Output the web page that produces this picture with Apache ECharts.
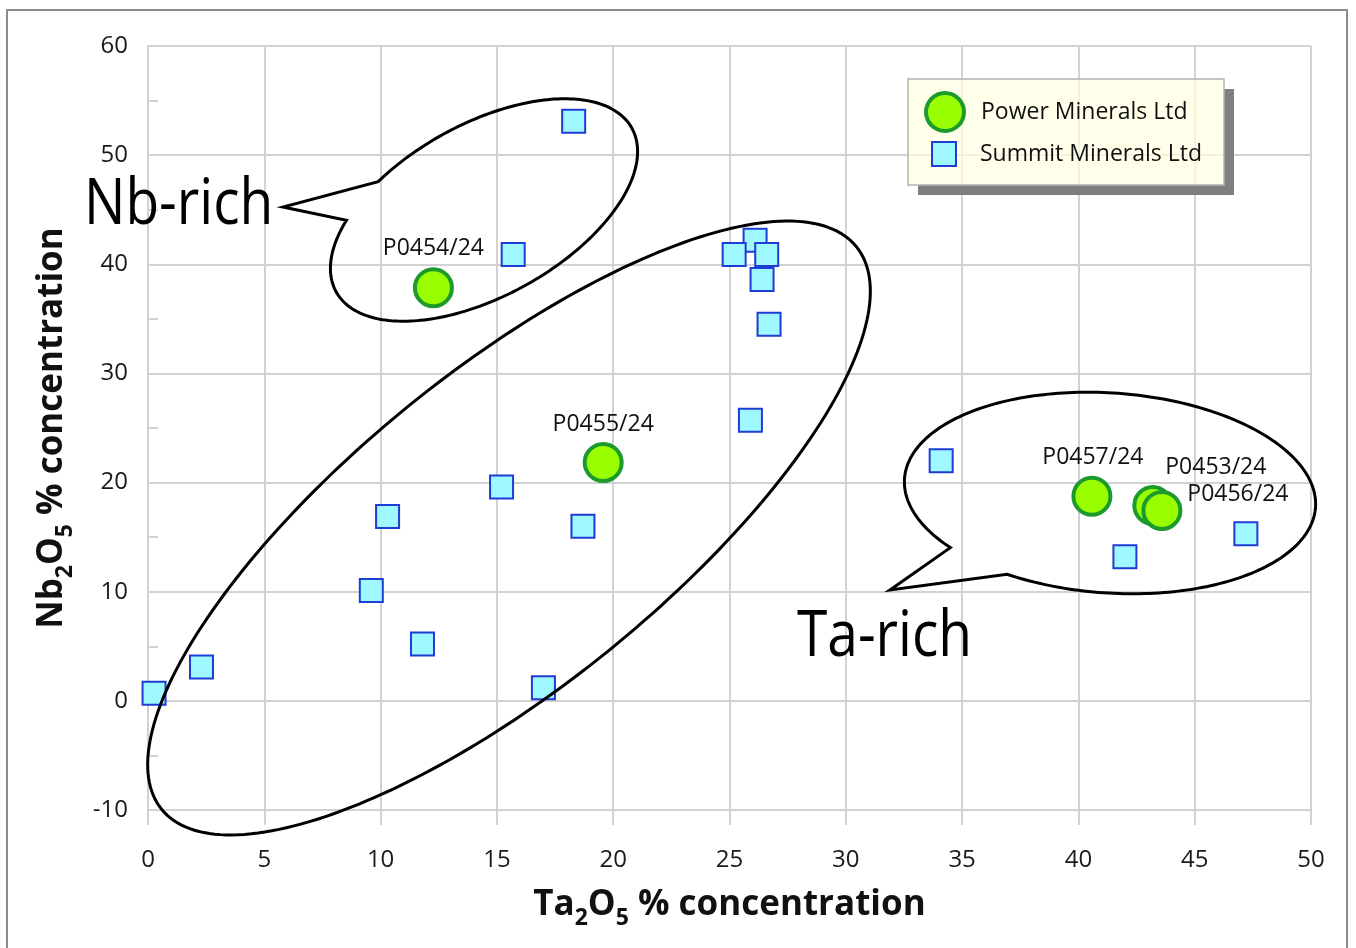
<!DOCTYPE html>
<html>
<head>
<meta charset="utf-8">
<script src="https://cdn.jsdelivr.net/npm/echarts@6/dist/echarts.min.js"></script>
<style>
  html, body { margin: 0; padding: 0; background: #fff; }
  #chart { width: 1356px; height: 948px; }
</style>
</head>
<body>
<div id="chart"></div>
<script>
// axis ranges
const xMin = 0, xMax = 50, xStep = 5;
const yMin = -10, yMax = 60, yStep = 10;

// Summit Minerals Ltd samples (Ta2O5 %, Nb2O5 %)
const summitTa = [0.26, 2.3, 9.6, 10.3, 11.8, 15.2, 15.7, 17.0, 18.3, 18.7, 26.1, 25.2, 26.6, 26.4, 26.7, 25.9, 34.1, 42.0, 47.2];
const summitNb = [0.7, 3.1, 10.1, 16.9, 5.2, 19.6, 40.9, 1.2, 53.1, 16.0, 42.2, 40.9, 40.9, 38.6, 34.5, 25.7, 22.0, 13.2, 15.3];

// Power Minerals Ltd samples
const powerNames = ['P0454/24', 'P0455/24', 'P0457/24', 'P0453/24', 'P0456/24'];
const powerTa = [12.27, 19.57, 40.58, 43.2, 43.59];
const powerNb = [37.85, 21.84, 18.75, 17.9, 17.45];

// where each sample name sits relative to its marker (px)
const labelOffsets = {
  'P0454/24': [0, -39],
  'P0455/24': [0, -38],
  'P0457/24': [1, -39],
  'P0453/24': [63, -38],
  'P0456/24': [76, -16],
};

const font = 'Open Sans';
const gridColor = '#d2d2d2';

const chart = echarts.init(document.getElementById('chart'));

// speech bubble outline: ellipse with a pointed tail
function bubble(cx, cy, a, b, rot, tail) {
  const r = rot * Math.PI / 180, c = Math.cos(r), s = Math.sin(r);
  const at = t => [cx + a * Math.cos(t) * c - b * Math.sin(t) * s,
                   cy + a * Math.cos(t) * s + b * Math.sin(t) * c];
  const n = 240;
  const pts = [];
  if (!tail) {
    for (let i = 0; i < n; i++) pts.push(at(2 * Math.PI * i / n));
    return pts;
  }
  const toT = p => {
    const dx = p[0] - cx, dy = p[1] - cy;
    return Math.atan2((-dx * s + dy * c) / b, (dx * c + dy * s) / a);
  };
  const t1 = toT(tail.from), t2 = toT(tail.to);
  let d = (t2 - t1) % (2 * Math.PI);
  if (d < 0) d += 2 * Math.PI;
  let start, len;
  if (d < Math.PI) { start = t2; len = 2 * Math.PI - d; } else { start = t1; len = d; }
  for (let i = 0; i <= n; i++) pts.push(at(start + len * i / n));
  pts.push(tail.tip);
  return pts;
}

const outline = { stroke: '#000', fill: 'none', lineWidth: 3, lineJoin: 'miter' };

const nameRich = {
  m: { fontFamily: font, fontWeight: 'bold', fontSize: 35, lineHeight: 50, color: '#111' },
  s: { fontFamily: font, fontWeight: 'bold', fontSize: 23, lineHeight: 23, verticalAlign: 'bottom', color: '#111' },
};

const option = {
  animation: false,
  backgroundColor: '#fff',
  grid: { left: 148, right: 45, top: 46, bottom: 138 },
  xAxis: {
    type: 'value',
    min: xMin,
    max: xMax,
    interval: xStep,
    name: '{m|Ta}{s|2}{m|O}{s|5}{m| % concentration}',
    nameLocation: 'middle',
    nameGap: 70,
    nameTextStyle: { rich: nameRich },
    axisLine: { show: true, onZero: false, lineStyle: { color: gridColor, width: 2 } },
    axisTick: { show: true, length: 15, lineStyle: { color: gridColor, width: 2 } },
    axisLabel: { margin: 38, fontFamily: font, fontSize: 24, color: '#1a1a1a' },
    splitLine: { show: true, lineStyle: { color: gridColor, width: 2 } },
  },
  yAxis: {
    type: 'value',
    min: yMin,
    max: yMax,
    interval: yStep,
    name: '{m|Nb}{s|2}{m|O}{s|5}{m| % concentration}',
    nameLocation: 'middle',
    nameRotate: 90,
    nameGap: 71,
    nameTextStyle: { rich: nameRich },
    axisLine: { show: true, onZero: false, lineStyle: { color: gridColor, width: 2 } },
    axisTick: { show: false, inside: true },
    minorTick: { show: true, splitNumber: 2, length: 10, lineStyle: { color: gridColor, width: 2 } },
    axisLabel: { margin: 20, fontFamily: font, fontSize: 24, color: '#1a1a1a' },
    splitLine: { show: true, lineStyle: { color: gridColor, width: 2 } },
  },
  legend: [
    {
      data: ['Power Minerals Ltd'],
      left: 919,
      top: 86,
      itemWidth: 62,
      itemHeight: 38,
      icon: 'circle',
      itemStyle: { color: '#99ff00', borderColor: '#1d9a2c', borderWidth: 4 },
      textStyle: { fontFamily: font, fontSize: 23, color: '#111' },
      selectedMode: false,
      z: 6,
    },
    {
      data: ['Summit Minerals Ltd'],
      left: 926,
      top: 136,
      itemWidth: 62,
      itemHeight: 24,
      icon: 'path://M0,0L10,0L10,10L0,10Z',
      itemStyle: { color: '#9ff7ff', borderColor: '#1f3cd4', borderWidth: 2 },
      textStyle: { fontFamily: font, fontSize: 23, color: '#111' },
      selectedMode: false,
      z: 6,
    },
  ],
  series: [
    {
      name: 'Summit Minerals Ltd',
      type: 'scatter',
      symbol: 'rect',
      symbolSize: 23,
      itemStyle: { color: '#9ff7ff', borderColor: '#1f3cd4', borderWidth: 2, opacity: 1 },
      emphasis: { disabled: true },
      data: summitTa.map((x, i) => [x, summitNb[i]]),
      z: 2,
    },
    {
      name: 'Power Minerals Ltd',
      type: 'scatter',
      symbol: 'circle',
      symbolSize: 37,
      itemStyle: { color: '#99ff00', borderColor: '#1d9a2c', borderWidth: 4, opacity: 1 },
      emphasis: { disabled: true },
      label: {
        show: true,
        position: 'inside',
        formatter: '{b}',
        fontFamily: font,
        fontSize: 23,
        color: '#111',
      },
      data: powerTa.map((x, i) => ({
        name: powerNames[i],
        value: [x, powerNb[i]],
        label: { offset: labelOffsets[powerNames[i]] },
      })),
      z: 3,
    },
  ],
  graphic: [
    // outer chart frame
    {
      type: 'polyline', z: 1, silent: true,
      shape: { points: [[7, 948], [7, 10], [1347, 10], [1347, 948]] },
      style: { stroke: '#8c8c8c', lineWidth: 2, fill: 'none' },
    },
    // legend box with drop shadow
    {
      type: 'polygon', z: 4, silent: true,
      shape: { points: [[1224, 89], [1234, 89], [1234, 195], [918, 195], [918, 185], [1224, 185]] },
      style: { fill: '#7f7f7f' },
    },
    {
      type: 'rect', z: 4, silent: true,
      shape: { x: 908, y: 79, width: 316, height: 106 },
      style: { fill: 'rgba(255,255,225,0.7)', stroke: '#b4b4b4', lineWidth: 1.5 },
    },
    // callouts
    {
      type: 'polygon', z: 5, silent: true,
      shape: { points: bubble(484, 210, 169, 86, -29, { from: [383, 183], to: [350, 220], tip: [283, 207] }) },
      style: outline,
    },
    {
      type: 'polygon', z: 5, silent: true,
      shape: { points: bubble(509, 528, 447, 158, -39) },
      style: outline,
    },
    {
      type: 'polygon', z: 5, silent: true,
      shape: { points: bubble(1110, 493, 206, 100, 4, { from: [958, 545], to: [1010, 572], tip: [890, 590] }) },
      style: outline,
    },
    {
      type: 'text', z: 6, silent: true,
      x: 84, y: 206, scaleX: 0.86,
      style: { text: 'Nb-rich', font: '64px "Open Sans"', fill: '#000', textAlign: 'left', textVerticalAlign: 'middle' },
    },
    {
      type: 'text', z: 6, silent: true,
      x: 797, y: 638, scaleX: 0.86,
      style: { text: 'Ta-rich', font: '64px "Open Sans"', fill: '#000', textAlign: 'left', textVerticalAlign: 'middle' },
    },
  ],
};

chart.setOption(option);
</script>
</body>
</html>
